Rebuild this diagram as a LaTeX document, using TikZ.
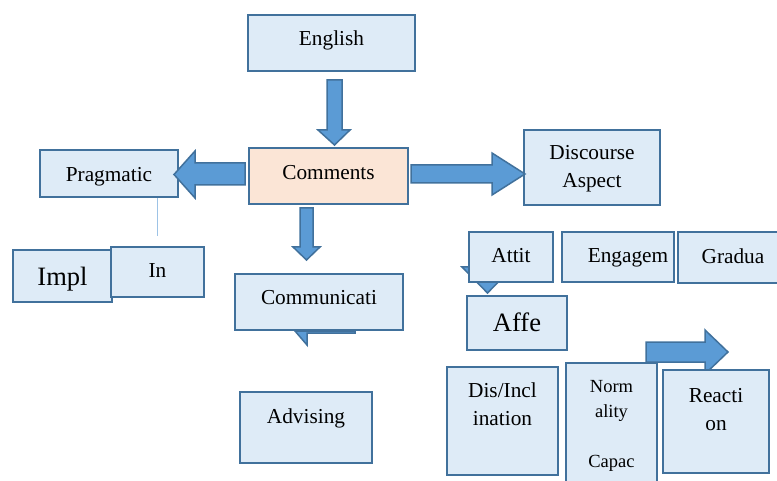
\documentclass[tikz,border=0pt]{standalone}
\usepackage{fontspec}
\setmainfont{Liberation Serif}
\usepackage{xcolor}
\definecolor{BoxBlue}{HTML}{DEEBF7}
\definecolor{LineBlue}{HTML}{41719C}
\definecolor{ArrowBlue}{HTML}{5B9BD5}
\definecolor{PaleBlue}{HTML}{9DC3E6}
\definecolor{CommentPeach}{HTML}{FBE5D6}

\begin{document}
\begin{tikzpicture}[x=1pt, y=-1pt,
    box/.style={draw=LineBlue, fill=BoxBlue, line width=2pt, inner sep=0pt, align=center, text height=20pt, font=\fontsize{21.3}{28}\selectfont},
    bigbox/.style={box, font=\fontsize{26.5}{32}\selectfont},
    smallbox/.style={box, font=\fontsize{18.5}{25}\selectfont},
    barrow/.style={draw=LineBlue, fill=ArrowBlue, line width=1.5pt, line join=miter}]
    \useasboundingbox (0,0) rectangle (777,481);

    % arrows hidden behind boxes
    \draw[barrow] (475,240) -- (500,240) -- (500,267) -- (513,267) -- (487.5,293) -- (462,267) -- (475,267) -- cycle;
    \draw[barrow] (646,342) -- (705,342) -- (705,330) -- (728,352) -- (705,374) -- (705,362) -- (646,362) -- cycle;

    \node[box, minimum width=167, minimum height=56, text depth=14pt] (english) at (331.5,43) {English};
    \node[box, fill=CommentPeach, minimum width=159, minimum height=56, text depth=12pt] (comments) at (328.5,176) {Comments};
    \node[box, minimum width=138, minimum height=47, text depth=3pt] (pragmatic) at (109,173.5) {Pragmatic};
    \node[bigbox, minimum width=99, minimum height=52, text depth=0.6pt] (impl) at (62.5,276) {Impl};
    \node[box, minimum width=93, minimum height=50, text depth=8pt] (in) at (157.5,272) {In};
    \node[box, minimum width=168, minimum height=56, text depth=14pt] (communic) at (319,302) {Communicati};
    \node[box, minimum width=132, minimum height=71, text depth=29pt] (advising) at (306,427.5) {Advising};
    \node[box, minimum width=136, minimum height=75, text height=46pt, text depth=5pt] (discourse) at (592,167.5) {Discourse\\Aspect};
    \node[box, minimum width=84, minimum height=50, text depth=8.6pt] (attit) at (511,257) {Attit};
    \node[box, minimum width=112, minimum height=50, text depth=8.6pt] (engagem) at (618,257) {\hspace*{20pt}Engagem};
    \node[box, minimum width=110, minimum height=51, text depth=8.6pt] (gradua) at (733,257.5) {Gradua};
    \node[bigbox, minimum width=100, minimum height=54, text depth=2.6pt] (affe) at (517,323) {Affe};
    \node[box, minimum width=111, minimum height=108, text height=13pt, text depth=5pt] (disincl) at (502.5,421) {Dis/Incl\\ination};
    \node[smallbox, minimum width=91, minimum height=125, text height=88pt, text depth=5pt] (norm) at (611.5,425.5) {Norm\\ality\\[25pt]Capac};
    \node[box, minimum width=106, minimum height=103, text height=22pt, text depth=5pt] (reaction) at (716,421.5) {Reacti\\on};

    \draw[barrow] (327,80) -- (342,80) -- (342,130) -- (350,130) -- (334.5,145) -- (318,130) -- (327,130) -- cycle;
    \draw[barrow] (245,163) -- (245,185) -- (195,185) -- (195,198) -- (174,174.5) -- (195,151) -- (195,163) -- cycle;
    \draw[barrow] (411,165) -- (492,165) -- (492,153) -- (525,174) -- (492,195) -- (492,183) -- (411,183) -- cycle;
    \draw[barrow] (300,208) -- (313,208) -- (313,247) -- (320,247) -- (306.5,260) -- (293,247) -- (300,247) -- cycle;
    \draw[barrow] (295,331) -- (307,345) -- (307,333) -- (355,333) -- (355,331) -- cycle;

    \coordinate (pragfoot) at (157,236);
    \draw[PaleBlue, line width=1pt] (pragmatic.south -| pragfoot) -- (pragfoot);
\end{tikzpicture}
\end{document}
